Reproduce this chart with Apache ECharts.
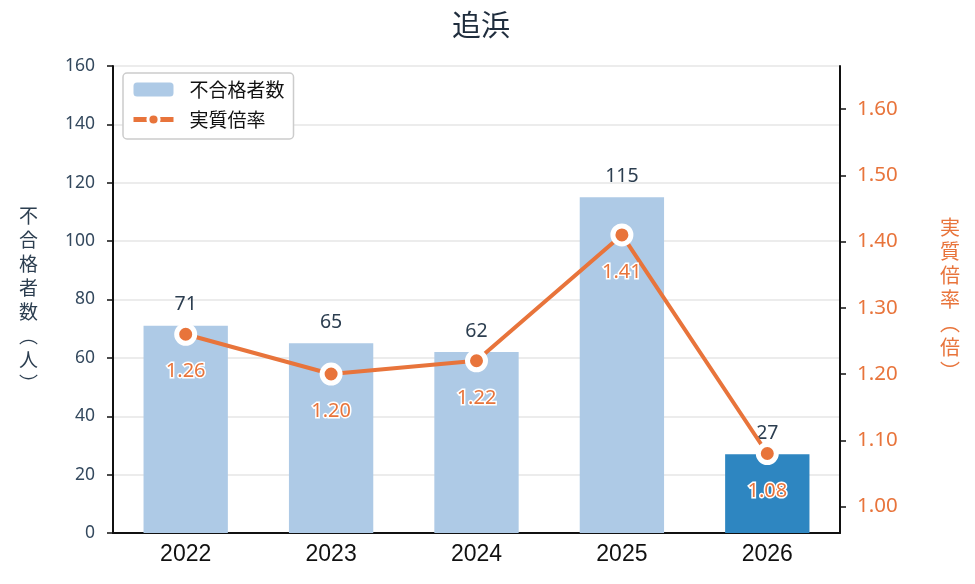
<!DOCTYPE html>
<html>
<head>
<meta charset="utf-8">
<title>追浜</title>
<script src="https://cdn.jsdelivr.net/npm/echarts@6/dist/echarts.min.js"></script>
<style>
	html, body { margin: 0; padding: 0; background: #fff; }
	.r_chart { width: 975px; height: 584px; }
</style>
</head>
<body>
<div class="r_chart"></div>
<script>
/**
 * 追浜 不合格者数 / 実質倍率
 * */

//年度
var years = ['2022', '2023', '2024', '2025', '2026'];
//不合格者数（人）
var failCounts = [71, 65, 62, 115, 27];
//実質倍率（倍）
var ratios = [1.26, 1.20, 1.22, 1.41, 1.08];
//右軸の目盛
var ratioTicks = [1.00, 1.10, 1.20, 1.30, 1.40, 1.50, 1.60];
//強調する年度
var highlightYear = '2026';

/**
 * 元素变量
 * */
var dom = {
	el: document.querySelector(".r_chart"),
}

var colors = {
	bar: '#aecae6',
	barHi: '#2e86c1',
	line: '#e8743b',
	axis: '#111111',
	text: '#2c3e50',
	grid: '#e6e6e6'
}

var font = '"Noto Sans CJK JP", "Noto Sans", sans-serif';
//数字用
var numFont = '"Noto Sans", sans-serif';

//縦書きの軸名
function vertical(str) {
	return str.split('').join('\n');
}

var render = {
	myChart: echarts.init(dom.el, null, { renderer: 'canvas' }),
}

var option = {
	animation: false,
	backgroundColor: '#ffffff',
	textStyle: { fontFamily: font },
	title: {
		text: '追浜',
		left: 447,
		top: 5,
		textStyle: {
			fontFamily: font,
			fontSize: 29,
			fontWeight: 'normal',
			color: '#1f2d3d'
		}
	},
	legend: {
		orient: 'vertical',
		left: 123,
		top: 73,
		padding: [7, 9, 10, 8],
		itemGap: 11,
		itemWidth: 40,
		itemHeight: 14,
		borderColor: '#cccccc',
		borderWidth: 1.5,
		borderRadius: 4,
		backgroundColor: '#ffffff',
		textStyle: {
			fontFamily: font,
			fontSize: 19,
			color: '#111111',
			padding: [0, 0, 0, 11]
		},
		data: [
			{ name: '不合格者数' },
			{ name: '実質倍率', lineStyle: { width: 5 }, itemStyle: { borderWidth: 3 } }
		]
	},
	grid: {
		left: 113,
		right: 135,
		top: 66,
		bottom: 51,
		containLabel: false,
		outerBoundsMode: 'none'
	},
	xAxis: {
		type: 'category',
		data: years,
		axisLine: { lineStyle: { color: colors.axis, width: 2 } },
		axisTick: { alignWithLabel: true, length: 6, lineStyle: { color: colors.axis, width: 1.5 } },
		axisLabel: {
			fontFamily: '"Liberation Sans", Arial, sans-serif',
			fontSize: 23,
			color: '#111111',
			margin: 10
		},
		splitLine: { show: false }
	},
	yAxis: [{
		type: 'value',
		min: 0,
		max: 160,
		interval: 20,
		name: vertical('不合格者数︵人︶'),
		nameLocation: 'middle',
		nameRotate: 0,
		nameGap: 75,
		nameTextStyle: {
			fontFamily: font,
			fontSize: 19,
			lineHeight: 24,
			color: colors.text
		},
		axisLine: { show: true, lineStyle: { color: colors.axis, width: 2 } },
		axisTick: { show: true, length: 6, lineStyle: { color: colors.axis, width: 1.5 } },
		axisLabel: {
			fontFamily: numFont,
			fontSize: 17.5,
			color: '#34495e',
			margin: 18
		},
		splitLine: { lineStyle: { color: colors.grid, width: 1.5 } }
	}, {
		type: 'value',
		min: 0.96,
		max: 1.665,
		position: 'right',
		name: vertical('実質倍率︵倍︶'),
		nameLocation: 'middle',
		nameRotate: 0,
		nameGap: 100,
		nameTextStyle: {
			fontFamily: font,
			fontSize: 20,
			lineHeight: 24,
			color: colors.line
		},
		axisLine: { show: true, lineStyle: { color: colors.axis, width: 2 } },
		axisTick: {
			show: true,
			length: 6,
			customValues: ratioTicks,
			lineStyle: { color: colors.axis, width: 1.5 }
		},
		axisLabel: {
			fontFamily: numFont,
			fontSize: 20.5,
			color: colors.line,
			margin: 17,
			customValues: ratioTicks,
			formatter: function(v) {
				return Number(v).toFixed(2);
			}
		},
		splitLine: { show: false }
	}],
	series: [{
		name: '不合格者数',
		type: 'bar',
		yAxisIndex: 0,
		barWidth: '58%',
		itemStyle: { color: colors.bar },
		label: {
			show: true,
			position: 'top',
			distance: 11,
			fontFamily: numFont,
			fontSize: 19.5,
			color: colors.text
		},
		data: failCounts.map(function(v, i) {
			return years[i] === highlightYear ? { value: v, itemStyle: { color: colors.barHi } } : v;
		})
	}, {
		name: '実質倍率',
		type: 'line',
		yAxisIndex: 1,
		z: 5,
		symbol: 'circle',
		symbolSize: 18,
		lineStyle: { color: colors.line, width: 4 },
		itemStyle: { color: colors.line, borderColor: '#ffffff', borderWidth: 5 },
		label: {
			show: true,
			position: 'bottom',
			distance: 16,
			fontFamily: numFont,
			fontSize: 20,
			color: colors.line,
			textBorderColor: '#ffffff',
			textBorderWidth: 3,
			formatter: function(p) {
				return Number(p.value).toFixed(2);
			}
		},
		data: ratios
	}]
};

render.myChart.setOption(option);
</script>
</body>
</html>
